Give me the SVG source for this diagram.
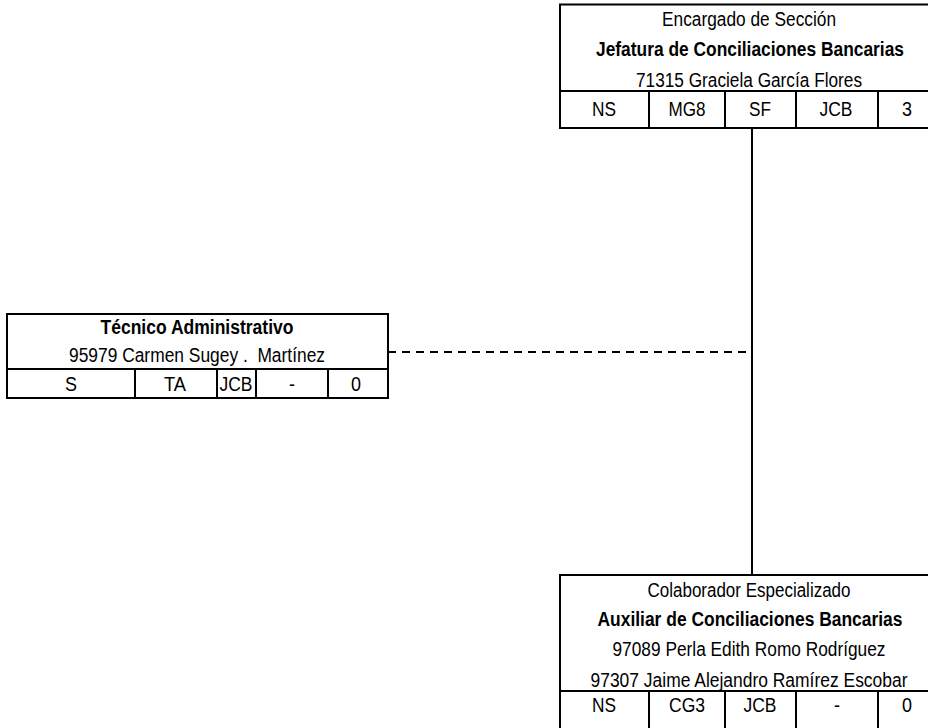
<svg xmlns="http://www.w3.org/2000/svg" width="928" height="728" viewBox="0 0 928 728">
<style>
.box{fill:#fff;stroke:#000;stroke-width:2}
.ln{stroke:#000;stroke-width:2;fill:none}
text{font-family:"Liberation Sans",Arial,sans-serif;font-size:20px;fill:#000;text-anchor:middle}
.b{font-weight:bold}
</style>
<rect width="928" height="728" fill="#fff"/>
<g id="connectors">
<line class="ln" x1="752" y1="128" x2="752" y2="575"/>
<line class="ln" x1="388" y1="352" x2="751" y2="352" stroke-dasharray="8,6"/>
</g>
<g id="jefatura">
<rect class="box" x="560" y="4.5" width="369.5" height="123.5"/>
<line class="ln" x1="560" y1="91" x2="929" y2="91"/>
<line class="ln" x1="649" y1="91" x2="649" y2="128"/>
<line class="ln" x1="725" y1="91" x2="725" y2="128"/>
<line class="ln" x1="796" y1="91" x2="796" y2="128"/>
<line class="ln" x1="878" y1="91" x2="878" y2="128"/>
<text x="749" y="26" textLength="174" lengthAdjust="spacingAndGlyphs">Encargado de Sección</text>
<text x="750" y="56" class="b" textLength="308" lengthAdjust="spacingAndGlyphs">Jefatura de Conciliaciones Bancarias</text>
<text x="749" y="87" textLength="226" lengthAdjust="spacingAndGlyphs">71315 Graciela García Flores</text>
<text x="604" y="116" textLength="24" lengthAdjust="spacingAndGlyphs">NS</text>
<text x="687" y="116" textLength="37" lengthAdjust="spacingAndGlyphs">MG8</text>
<text x="760" y="116" textLength="22" lengthAdjust="spacingAndGlyphs">SF</text>
<text x="836" y="116" textLength="33" lengthAdjust="spacingAndGlyphs">JCB</text>
<text x="907" y="116" textLength="10" lengthAdjust="spacingAndGlyphs">3</text>
</g>
<g id="tecnico">
<rect class="box" x="7" y="314" width="381" height="84"/>
<line class="ln" x1="7" y1="369" x2="388" y2="369"/>
<line class="ln" x1="135" y1="369" x2="135" y2="398"/>
<line class="ln" x1="217" y1="369" x2="217" y2="398"/>
<line class="ln" x1="256" y1="369" x2="256" y2="398"/>
<line class="ln" x1="328" y1="369" x2="328" y2="398"/>
<text x="197" y="334" class="b" textLength="193" lengthAdjust="spacingAndGlyphs">Técnico Administrativo</text>
<text x="197" y="362" xml:space="preserve" textLength="256" lengthAdjust="spacingAndGlyphs">95979 Carmen Sugey .  Martínez</text>
<text x="71" y="391" textLength="12" lengthAdjust="spacingAndGlyphs">S</text>
<text x="175" y="391" textLength="22" lengthAdjust="spacingAndGlyphs">TA</text>
<text x="236" y="391" textLength="33" lengthAdjust="spacingAndGlyphs">JCB</text>
<text x="292" y="391" textLength="6" lengthAdjust="spacingAndGlyphs">-</text>
<text x="356" y="391" textLength="10" lengthAdjust="spacingAndGlyphs">0</text>
</g>
<g id="auxiliar">
<rect class="box" x="560" y="575" width="369.5" height="200"/>
<line class="ln" x1="560" y1="691" x2="929" y2="691"/>
<line class="ln" x1="649" y1="691" x2="649" y2="730"/>
<line class="ln" x1="725" y1="691" x2="725" y2="730"/>
<line class="ln" x1="796" y1="691" x2="796" y2="730"/>
<line class="ln" x1="878" y1="691" x2="878" y2="730"/>
<text x="749" y="597" textLength="203" lengthAdjust="spacingAndGlyphs">Colaborador Especializado</text>
<text x="750" y="626" class="b" textLength="305" lengthAdjust="spacingAndGlyphs">Auxiliar de Conciliaciones Bancarias</text>
<text x="749" y="656" textLength="273" lengthAdjust="spacingAndGlyphs">97089 Perla Edith Romo Rodríguez</text>
<text x="749" y="687" textLength="317" lengthAdjust="spacingAndGlyphs">97307 Jaime Alejandro Ramírez Escobar</text>
<text x="604" y="712" textLength="24" lengthAdjust="spacingAndGlyphs">NS</text>
<text x="687" y="712" textLength="36" lengthAdjust="spacingAndGlyphs">CG3</text>
<text x="760" y="712" textLength="33" lengthAdjust="spacingAndGlyphs">JCB</text>
<text x="837" y="712" textLength="6" lengthAdjust="spacingAndGlyphs">-</text>
<text x="907" y="712" textLength="10" lengthAdjust="spacingAndGlyphs">0</text>
</g>
</svg>
